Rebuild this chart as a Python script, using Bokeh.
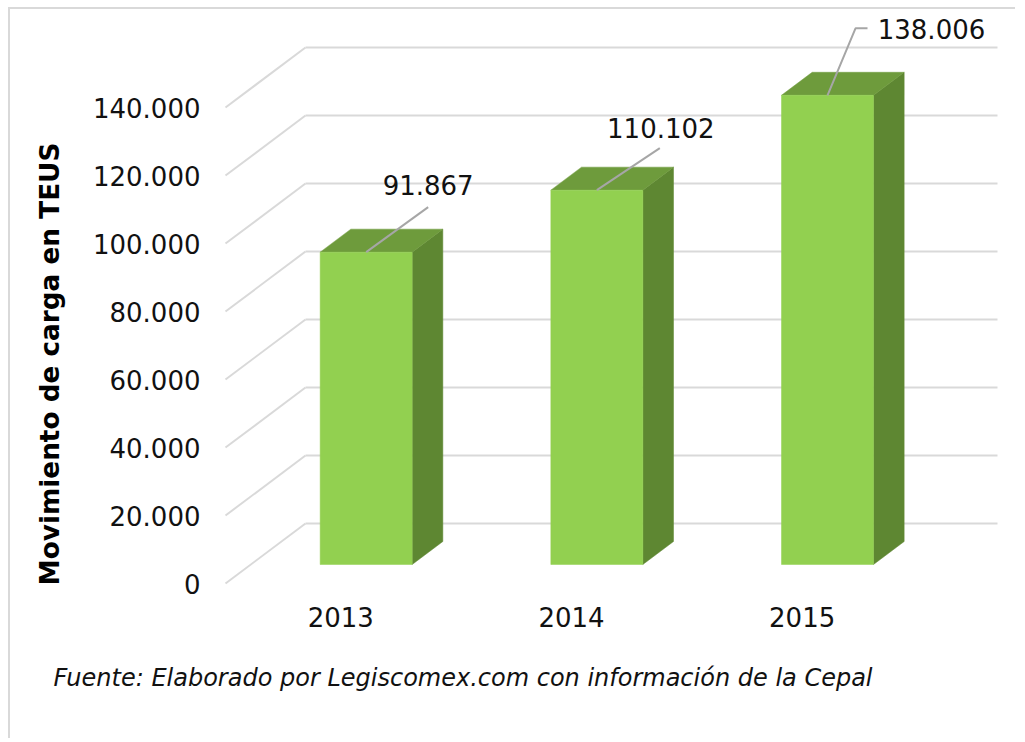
from bokeh.plotting import figure
from bokeh.models import Range1d, FixedTicker, Title
from bokeh.core.properties import value
from bokeh.embed import file_html
from bokeh.resources import INLINE

# ---------------- data ----------------
years = ["2013", "2014", "2015"]
teus = [91867, 110102, 138006]
value_labels = ["91.867", "110.102", "138.006"]
y_ticks = [0, 20000, 40000, 60000, 80000, 100000, 120000, 140000]
y_tick_labels = ["0", "20.000", "40.000", "60.000", "80.000", "100.000", "120.000", "140.000"]
y_title = "Movimiento de carga en TEUS"
source_note = "Fuente: Elaborado por Legiscomex.com con información de la Cepal"

# ---------------- geometry / style ----------------
FONT = "DejaVu Sans"
W, H = 1007, 731
ML, MR, MT, MB = 205, 12, 3, 150
FRAME_W = W - ML - MR
FRAME_H = H - MT - MB
PX_CAT = 692.0 / 3.0          # pixels per category
PX_VAL = 476.0 / 140000.0     # pixels per unit of value (front plane)
x_start = -10.0 / PX_CAT
y_start = -7.0 / PX_VAL
DX = 80.0 / PX_CAT            # depth offset (x) of the back wall
DY = 60.0 / PX_VAL            # depth offset (y) of the back wall
F0, F1 = 19.0 / 60.0, 42.0 / 60.0   # bar depth (front/back) as fraction of wall depth
BAR_W = 92.0 / PX_CAT

FRONT_C = "#92D050"
SIDE_C = "#5E8732"
TOP_C = "#6E9B3C"
GRID_C = "#D9D9D9"
LEAD_C = "#A6A6A6"

# label placement (pixel offsets from bar top-front centre)
label_dx = [62, 64, 104]
label_dy = [-67, -62, -66]
leader_px = [
    [(0, 0), (62, -45)],
    [(0, 0), (63, -42)],
    [(0, 0), (28, -67), (40, -67)],
]

p = figure(
    width=W, height=H, output_backend="svg", toolbar_location=None, title=None,
    x_range=Range1d(x_start, x_start + FRAME_W / PX_CAT),
    y_range=Range1d(y_start, y_start + FRAME_H / PX_VAL),
    min_border_left=ML, min_border_right=MR, min_border_top=MT, min_border_bottom=MB,
    background_fill_color="white", border_fill_color="white",
)
p.outline_line_color = None
p.grid.visible = False
p.styles = {"margin-left": "8px", "margin-top": "7px",
            "border-left": "2px solid #D9D9D9", "border-top": "2px solid #D9D9D9"}

n = len(years)
# back wall gridlines
p.segment(x0=[DX] * len(y_ticks), y0=[t + DY for t in y_ticks],
          x1=[n + DX] * len(y_ticks), y1=[t + DY for t in y_ticks],
          line_color=GRID_C, line_width=2)
# side wall gridlines
p.segment(x0=[0] * len(y_ticks), y0=y_ticks,
          x1=[DX] * len(y_ticks), y1=[t + DY for t in y_ticks],
          line_color=GRID_C, line_width=2)

# 3D bars
side_xs, side_ys, top_xs, top_ys = [], [], [], []
fl, fr, fb, ft = [], [], [], []
for i, v in enumerate(teus):
    xl = i + 0.5 - BAR_W / 2
    xr = i + 0.5 + BAR_W / 2
    side_xs.append([xr + F0 * DX, xr + F1 * DX, xr + F1 * DX, xr + F0 * DX])
    side_ys.append([F0 * DY, F1 * DY, v + F1 * DY, v + F0 * DY])
    top_xs.append([xl + F0 * DX, xr + F0 * DX, xr + F1 * DX, xl + F1 * DX])
    top_ys.append([v + F0 * DY, v + F0 * DY, v + F1 * DY, v + F1 * DY])
    fl.append(xl + F0 * DX)
    fr.append(xr + F0 * DX)
    fb.append(F0 * DY)
    ft.append(v + F0 * DY)

p.patches(side_xs, side_ys, fill_color=SIDE_C, line_color=SIDE_C, line_width=0.5)
p.patches(top_xs, top_ys, fill_color=TOP_C, line_color=TOP_C, line_width=0.5)
p.quad(left=fl, right=fr, bottom=fb, top=ft, fill_color=FRONT_C, line_color=FRONT_C, line_width=0.5)

# leader lines and value labels
ax = [i + 0.5 + F0 * DX for i in range(n)]
ay = [v + F0 * DY for v in teus]
lxs, lys = [], []
for i in range(n):
    lxs.append([ax[i] + px / PX_CAT for px, py in leader_px[i]])
    lys.append([ay[i] - py / PX_VAL for px, py in leader_px[i]])
p.multi_line(lxs, lys, line_color=LEAD_C, line_width=2)
p.text(x=ax, y=ay, text=value_labels, x_offset=label_dx, y_offset=label_dy,
       text_align="center", text_baseline="middle",
       text_font=value(FONT), text_font_size="26px", text_color="#111111")

# axes
p.yaxis.ticker = FixedTicker(ticks=y_ticks)
p.yaxis.major_label_overrides = {t: s for t, s in zip(y_ticks, y_tick_labels)}
p.xaxis.ticker = FixedTicker(ticks=[i + 0.5 for i in range(n)])
p.xaxis.major_label_overrides = {i + 0.5: y for i, y in enumerate(years)}
for ax_ in (p.xaxis, p.yaxis):
    ax_.axis_line_color = None
    ax_.major_tick_line_color = None
    ax_.minor_tick_line_color = None
    ax_.major_tick_out = 0
    ax_.major_tick_in = 0
    ax_.major_label_text_font = FONT
    ax_.major_label_text_font_size = "26px"
    ax_.major_label_text_color = "#111111"
p.yaxis.major_label_standoff = 15
p.xaxis.major_label_standoff = 16

# vertical axis title and source note
p.add_layout(Title(text=y_title, align="left", offset=5, vertical_align="top",
                   text_font=FONT, text_font_size="26.3px", text_font_style="bold",
                   text_color="#000000", standoff=46), "left")
p.add_layout(Title(text=source_note, align="left", offset=-162, text_font=FONT,
                   text_font_size="24px", text_font_style="italic", text_color="#111111",
                   standoff=64), "below")

open("out.html", "w").write(file_html(p, INLINE))
